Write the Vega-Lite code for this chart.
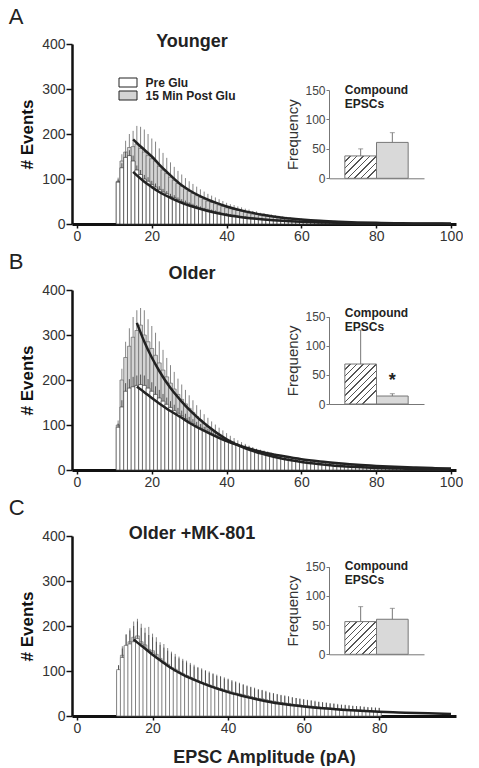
{
"$schema": "https://vega.github.io/schema/vega-lite/v6.json",
"background": "white",
"padding": {"left": 8, "top": 5, "right": 0, "bottom": 0},
"config": {"view": {"stroke": null}, "font": "Liberation Sans", "axis": {"grid": false}},
"spacing": 8,
"resolve": {"scale": {"color": "independent"}, "legend": {"color": "independent"}},
"datasets": {
"ins": [
{"p":"A","c":"Pre Glu","v":38,"e":50},{"p":"A","c":"15 Min Post Glu","v":61,"e":77.5},
{"p":"B","c":"Pre Glu","v":68.7,"e":127},{"p":"B","c":"15 Min Post Glu","v":13.7,"e":17.7},
{"p":"C","c":"Pre Glu","v":56,"e":81.6},{"p":"C","c":"15 Min Post Glu","v":60,"e":78.7}
],
"fit": [
{"p":"A","x":15,"a":116,"b":188},{"p":"A","x":16,"a":108,"b":180},{"p":"A","x":18,"a":94,"b":165},{"p":"A","x":20,"a":82,"b":150},{"p":"A","x":22,"a":71,"b":132},{"p":"A","x":25,"a":58,"b":108},{"p":"A","x":28,"a":47,"b":86},{"p":"A","x":30,"a":41,"b":75},{"p":"A","x":35,"a":29,"b":54},{"p":"A","x":40,"a":20,"b":39},{"p":"A","x":45,"a":14,"b":28},{"p":"A","x":50,"a":10,"b":20},{"p":"A","x":55,"a":7,"b":14},{"p":"A","x":60,"a":5,"b":10},{"p":"A","x":65,"a":3.5,"b":7},{"p":"A","x":70,"a":2.5,"b":5},{"p":"A","x":75,"a":1.8,"b":3.6},{"p":"A","x":80,"a":1.2,"b":2.6},{"p":"A","x":85,"a":0.9,"b":1.9},{"p":"A","x":90,"a":0.6,"b":1.3},{"p":"A","x":95,"a":0.4,"b":1},{"p":"A","x":100,"a":0.3,"b":0.7},
{"p":"B","x":16,"a":185,"b":327},{"p":"B","x":18,"a":173,"b":285},{"p":"B","x":20,"a":160,"b":250},{"p":"B","x":22,"a":148,"b":220},{"p":"B","x":25,"a":131,"b":182},{"p":"B","x":28,"a":116,"b":152},{"p":"B","x":30,"a":105,"b":134},{"p":"B","x":35,"a":83,"b":97},{"p":"B","x":40,"a":64,"b":68},{"p":"B","x":45,"a":50,"b":48},{"p":"B","x":50,"a":39,"b":35},{"p":"B","x":55,"a":31,"b":25},{"p":"B","x":60,"a":24,"b":18},{"p":"B","x":65,"a":19,"b":13},{"p":"B","x":70,"a":15,"b":9},{"p":"B","x":75,"a":11.5,"b":6.5},{"p":"B","x":80,"a":9,"b":4.7},{"p":"B","x":85,"a":7,"b":3.4},{"p":"B","x":90,"a":5.5,"b":2.4},{"p":"B","x":95,"a":4.3,"b":1.7},{"p":"B","x":100,"a":3.4,"b":1.2},
{"p":"C","x":15,"a":170},{"p":"C","x":16,"a":163},{"p":"C","x":18,"a":150},{"p":"C","x":20,"a":136},{"p":"C","x":22,"a":124},{"p":"C","x":25,"a":106},{"p":"C","x":28,"a":92},{"p":"C","x":30,"a":84},{"p":"C","x":35,"a":67},{"p":"C","x":40,"a":53},{"p":"C","x":45,"a":42},{"p":"C","x":50,"a":33},{"p":"C","x":55,"a":26},{"p":"C","x":60,"a":21},{"p":"C","x":65,"a":17},{"p":"C","x":70,"a":14},{"p":"C","x":75,"a":11.5},{"p":"C","x":80,"a":9.5},{"p":"C","x":85,"a":8},{"p":"C","x":90,"a":6.5},{"p":"C","x":95,"a":5.5},{"p":"C","x":99,"a":4.5}
],
"hist": [
{"p":"A","x":11,"a":93,"at":99,"b":95,"bt":103},{"p":"A","x":12,"a":125,"at":135,"b":140,"bt":155},{"p":"A","x":13,"a":148,"at":160,"b":160,"bt":185},{"p":"A","x":14,"a":152,"at":164,"b":170,"bt":200},{"p":"A","x":15,"a":140,"at":152,"b":172,"bt":207},{"p":"A","x":16,"a":120,"at":130,"b":178,"bt":218},{"p":"A","x":17,"a":110,"at":120,"b":168,"bt":216},{"p":"A","x":18,"a":100,"at":109,"b":160,"bt":210},{"p":"A","x":19,"a":95,"at":104,"b":152,"bt":200},{"p":"A","x":20,"a":88,"at":96,"b":145,"bt":190},
{"p":"A","x":21,"a":82,"at":90,"b":140,"bt":183},{"p":"A","x":22,"a":77,"at":84,"b":128,"bt":168},{"p":"A","x":23,"a":71,"at":78,"b":120,"bt":158},{"p":"A","x":24,"a":67,"at":73,"b":112,"bt":147},{"p":"A","x":25,"a":61,"at":67,"b":104,"bt":137},{"p":"A","x":26,"a":58,"at":64,"b":97,"bt":127},{"p":"A","x":27,"a":54,"at":59,"b":90,"bt":118},{"p":"A","x":28,"a":50,"at":55,"b":84,"bt":110},{"p":"A","x":29,"a":47,"at":52,"b":78,"bt":102},{"p":"A","x":30,"a":44,"at":48,"b":73,"bt":95},
{"p":"A","x":31,"a":41,"at":45,"b":68,"bt":89},{"p":"A","x":32,"a":38,"at":42,"b":63,"bt":83},{"p":"A","x":33,"a":35,"at":39,"b":59,"bt":77},{"p":"A","x":34,"a":33,"at":36,"b":55,"bt":72},{"p":"A","x":35,"a":31,"at":34,"b":51,"bt":67},{"p":"A","x":36,"a":29,"at":32,"b":48,"bt":63},{"p":"A","x":37,"a":27,"at":30,"b":45,"bt":59},{"p":"A","x":38,"a":25,"at":28,"b":42,"bt":55},{"p":"A","x":39,"a":23,"at":25,"b":39,"bt":51},{"p":"A","x":40,"a":22,"at":24,"b":36,"bt":47},
{"p":"A","x":41,"a":20,"at":22,"b":34,"bt":44},{"p":"A","x":42,"a":19,"at":21,"b":32,"bt":42},{"p":"A","x":43,"a":17,"at":19,"b":30,"bt":39},{"p":"A","x":44,"a":16,"at":18,"b":28,"bt":37},{"p":"A","x":45,"a":15,"at":17,"b":26,"bt":34},{"p":"A","x":46,"a":14,"at":16,"b":24,"bt":32},{"p":"A","x":47,"a":13,"at":15,"b":22,"bt":29},{"p":"A","x":48,"a":12,"at":13,"b":21,"bt":28},{"p":"A","x":49,"a":11,"at":12,"b":19,"bt":25},{"p":"A","x":50,"a":10,"at":11,"b":18,"bt":24},
{"p":"A","x":51,"a":10,"at":11,"b":17,"bt":22},{"p":"A","x":52,"a":9,"at":10,"b":16,"bt":21},{"p":"A","x":53,"a":8,"at":9,"b":15,"bt":20},{"p":"A","x":54,"a":8,"at":9,"b":14,"bt":18},{"p":"A","x":55,"a":7,"at":8,"b":13,"bt":17},{"p":"A","x":56,"a":7,"at":8,"b":12,"bt":16},{"p":"A","x":57,"a":6,"at":7,"b":11,"bt":15},{"p":"A","x":58,"a":6,"at":7,"b":10,"bt":13},{"p":"A","x":59,"a":5,"at":6,"b":10,"bt":13},{"p":"A","x":60,"a":5,"at":6,"b":9,"bt":12},
{"p":"A","x":61,"a":5,"at":6,"b":8,"bt":11},{"p":"A","x":62,"a":4,"at":5,"b":8,"bt":11},{"p":"A","x":63,"a":4,"at":5,"b":7,"bt":9},{"p":"A","x":64,"a":4,"at":5,"b":7,"bt":9},{"p":"A","x":65,"a":3,"at":4,"b":6,"bt":8},{"p":"A","x":66,"a":3,"at":4,"b":6,"bt":8},{"p":"A","x":67,"a":3,"at":4,"b":5,"bt":7},{"p":"A","x":68,"a":3,"at":4,"b":5,"bt":7},{"p":"A","x":69,"a":2,"at":3,"b":5,"bt":7},{"p":"A","x":70,"a":2,"at":3,"b":4,"bt":5},
{"p":"A","x":71,"a":2,"at":3,"b":4,"bt":5},{"p":"A","x":72,"a":2,"at":3,"b":4,"bt":5},{"p":"A","x":73,"a":2,"at":3,"b":3,"bt":4},{"p":"A","x":74,"a":2,"at":3,"b":3,"bt":4},{"p":"A","x":75,"a":2,"at":3,"b":3,"bt":4},{"p":"A","x":76,"a":1,"at":2,"b":3,"bt":4},{"p":"A","x":77,"a":1,"at":2,"b":3,"bt":4},{"p":"A","x":78,"a":1,"at":2,"b":2,"bt":3},{"p":"A","x":79,"a":1,"at":2,"b":2,"bt":3},{"p":"A","x":80,"a":1,"at":2,"b":2,"bt":3},
{"p":"A","x":81,"a":1,"at":2,"b":2,"bt":3},{"p":"A","x":82,"a":1,"at":2,"b":2,"bt":3},{"p":"A","x":83,"a":1,"at":2,"b":2,"bt":3},{"p":"A","x":84,"a":1,"at":2,"b":2,"bt":3},{"p":"A","x":85,"a":1,"at":2,"b":2,"bt":3},{"p":"A","x":86,"a":1,"at":2,"b":1,"bt":2},{"p":"A","x":87,"a":1,"at":2,"b":1,"bt":2},{"p":"A","x":88,"a":1,"at":2,"b":1,"bt":2},{"p":"A","x":89,"a":1,"at":2,"b":1,"bt":2},{"p":"A","x":90,"a":1,"at":2,"b":1,"bt":2},
{"p":"A","x":91,"a":1,"at":2,"b":1,"bt":2},{"p":"A","x":92,"a":1,"at":2,"b":1,"bt":2},{"p":"A","x":93,"a":1,"at":2,"b":1,"bt":2},{"p":"A","x":94,"a":1,"at":2,"b":1,"bt":2},{"p":"A","x":95,"a":1,"at":2,"b":1,"bt":2},{"p":"A","x":96,"a":1,"at":2,"b":1,"bt":2},{"p":"A","x":97,"a":1,"at":2,"b":1,"bt":2},{"p":"A","x":98,"a":1,"at":2,"b":1,"bt":2},{"p":"A","x":99,"a":1,"at":2,"b":1,"bt":2},
{"p":"B","x":11,"a":95,"at":103,"b":100,"bt":110},{"p":"B","x":12,"a":140,"at":155,"b":200,"bt":225},{"p":"B","x":13,"a":175,"at":193,"b":250,"bt":285},{"p":"B","x":14,"a":182,"at":202,"b":275,"bt":315},{"p":"B","x":15,"a":185,"at":207,"b":295,"bt":340},{"p":"B","x":16,"a":188,"at":210,"b":310,"bt":355},{"p":"B","x":17,"a":190,"at":212,"b":322,"bt":360},{"p":"B","x":18,"a":188,"at":210,"b":300,"bt":355},{"p":"B","x":19,"a":182,"at":202,"b":285,"bt":335},{"p":"B","x":20,"a":175,"at":195,"b":270,"bt":320},
{"p":"B","x":21,"a":168,"at":186,"b":255,"bt":305},{"p":"B","x":22,"a":160,"at":178,"b":238,"bt":286},{"p":"B","x":23,"a":153,"at":169,"b":222,"bt":267},{"p":"B","x":24,"a":146,"at":161,"b":207,"bt":249},{"p":"B","x":25,"a":139,"at":153,"b":193,"bt":233},{"p":"B","x":26,"a":132,"at":145,"b":180,"bt":218},{"p":"B","x":27,"a":126,"at":138,"b":168,"bt":203},{"p":"B","x":28,"a":120,"at":132,"b":157,"bt":190},{"p":"B","x":29,"a":114,"at":125,"b":147,"bt":178},{"p":"B","x":30,"a":108,"at":118,"b":137,"bt":166},
{"p":"B","x":31,"a":103,"at":113,"b":128,"bt":155},{"p":"B","x":32,"a":98,"at":107,"b":119,"bt":144},{"p":"B","x":33,"a":93,"at":102,"b":111,"bt":134},{"p":"B","x":34,"a":88,"at":96,"b":103,"bt":124},{"p":"B","x":35,"a":84,"at":92,"b":96,"bt":116},{"p":"B","x":36,"a":80,"at":88,"b":89,"bt":108},{"p":"B","x":37,"a":76,"at":83,"b":83,"bt":101},{"p":"B","x":38,"a":72,"at":79,"b":77,"bt":94},{"p":"B","x":39,"a":68,"at":75,"b":72,"bt":88},{"p":"B","x":40,"a":65,"at":71,"b":67,"bt":82},
{"p":"B","x":41,"a":61,"at":67,"b":62,"bt":76},{"p":"B","x":42,"a":58,"at":64,"b":58,"bt":71},{"p":"B","x":43,"a":55,"at":60,"b":54,"bt":66},{"p":"B","x":44,"a":52,"at":57,"b":50,"bt":62},{"p":"B","x":45,"a":50,"at":55,"b":47,"bt":58},{"p":"B","x":46,"a":47,"at":52,"b":44,"bt":54},{"p":"B","x":47,"a":45,"at":49,"b":41,"bt":51},{"p":"B","x":48,"a":43,"at":47,"b":38,"bt":47},{"p":"B","x":49,"a":41,"at":45,"b":35,"bt":44},{"p":"B","x":50,"a":39,"at":43,"b":33,"bt":41},
{"p":"B","x":51,"a":37,"at":41,"b":31,"bt":39},{"p":"B","x":52,"a":35,"at":38,"b":29,"bt":36},{"p":"B","x":53,"a":33,"at":36,"b":27,"bt":34},{"p":"B","x":54,"a":31,"at":34,"b":25,"bt":31},{"p":"B","x":55,"a":30,"at":33,"b":23,"bt":29},{"p":"B","x":56,"a":28,"at":31,"b":22,"bt":28},{"p":"B","x":57,"a":27,"at":30,"b":20,"bt":25},{"p":"B","x":58,"a":25,"at":28,"b":19,"bt":24},{"p":"B","x":59,"a":24,"at":26,"b":18,"bt":23},{"p":"B","x":60,"a":23,"at":25,"b":17,"bt":21},
{"p":"B","x":61,"a":22,"at":24,"b":16,"bt":20},{"p":"B","x":62,"a":21,"at":23,"b":15,"bt":19},{"p":"B","x":63,"a":20,"at":22,"b":14,"bt":18},{"p":"B","x":64,"a":19,"at":21,"b":13,"bt":16},{"p":"B","x":65,"a":18,"at":20,"b":12,"bt":15},{"p":"B","x":66,"a":17,"at":19,"b":11,"bt":14},{"p":"B","x":67,"a":16,"at":18,"b":10,"bt":13},{"p":"B","x":68,"a":15,"at":17,"b":10,"bt":13},{"p":"B","x":69,"a":14,"at":16,"b":9,"bt":11},{"p":"B","x":70,"a":13,"at":15,"b":8,"bt":10},
{"p":"B","x":71,"a":13,"at":14,"b":8,"bt":10},{"p":"B","x":72,"a":12,"at":13,"b":7,"bt":9},{"p":"B","x":73,"a":11,"at":12,"b":7,"bt":9},{"p":"B","x":74,"a":11,"at":12,"b":6,"bt":8},{"p":"B","x":75,"a":10,"at":11,"b":6,"bt":8},{"p":"B","x":76,"a":10,"at":11,"b":6,"bt":7},{"p":"B","x":77,"a":9,"at":10,"b":5,"bt":6},{"p":"B","x":78,"a":9,"at":10,"b":5,"bt":6},{"p":"B","x":79,"a":8,"at":9,"b":5,"bt":6},{"p":"B","x":80,"a":8,"at":9,"b":4,"bt":5},
{"p":"B","x":81,"a":7,"at":8,"b":4,"bt":5},{"p":"B","x":82,"a":7,"at":8,"b":4,"bt":5},{"p":"B","x":83,"a":6,"at":7,"b":3,"bt":4},{"p":"B","x":84,"a":6,"at":7,"b":3,"bt":4},{"p":"B","x":85,"a":6,"at":7,"b":3,"bt":4},{"p":"B","x":86,"a":5,"at":6,"b":3,"bt":4},{"p":"B","x":87,"a":5,"at":6,"b":3,"bt":4},{"p":"B","x":88,"a":5,"at":6,"b":2,"bt":3},{"p":"B","x":89,"a":4,"at":5,"b":2,"bt":3},{"p":"B","x":90,"a":4,"at":5,"b":2,"bt":3},
{"p":"B","x":91,"a":4,"at":5,"b":2,"bt":3},{"p":"B","x":92,"a":4,"at":5,"b":2,"bt":3},{"p":"B","x":93,"a":3,"at":4,"b":2,"bt":3},{"p":"B","x":94,"a":3,"at":4,"b":1,"bt":2},{"p":"B","x":95,"a":3,"at":4,"b":1,"bt":2},{"p":"B","x":96,"a":3,"at":4,"b":1,"bt":2},{"p":"B","x":97,"a":3,"at":4,"b":1,"bt":2},{"p":"B","x":98,"a":2,"at":3,"b":1,"bt":2},{"p":"B","x":99,"a":2,"at":3,"b":1,"bt":2},
{"p":"C","x":11,"a":103,"at":113,"b":100,"bt":112},{"p":"C","x":12,"a":130,"at":150,"b":135,"bt":155},{"p":"C","x":13,"a":157,"at":182,"b":155,"bt":180},{"p":"C","x":14,"a":160,"at":190,"b":165,"bt":195},{"p":"C","x":15,"a":165,"at":200,"b":175,"bt":210},{"p":"C","x":16,"a":172,"at":210,"b":178,"bt":216},{"p":"C","x":17,"a":160,"at":196,"b":165,"bt":205},{"p":"C","x":18,"a":150,"at":185,"b":158,"bt":196},{"p":"C","x":19,"a":145,"at":180,"b":148,"bt":198},{"p":"C","x":20,"a":140,"at":175,"b":145,"bt":183},
{"p":"C","x":21,"a":130,"at":165,"b":137,"bt":175},{"p":"C","x":22,"a":124,"at":158,"b":128,"bt":164},{"p":"C","x":23,"a":118,"at":152,"b":120,"bt":160},{"p":"C","x":24,"a":112,"at":145,"b":115,"bt":151},{"p":"C","x":25,"a":106,"at":139,"b":108,"bt":143},{"p":"C","x":26,"a":100,"at":132,"b":104,"bt":138},{"p":"C","x":27,"a":96,"at":128,"b":98,"bt":132},{"p":"C","x":28,"a":92,"at":123,"b":94,"bt":127},{"p":"C","x":29,"a":88,"at":119,"b":90,"bt":123},{"p":"C","x":30,"a":84,"at":114,"b":86,"bt":118},
{"p":"C","x":31,"a":80,"at":110,"b":82,"bt":114},{"p":"C","x":32,"a":77,"at":107,"b":78,"bt":109},{"p":"C","x":33,"a":74,"at":103,"b":75,"bt":106},{"p":"C","x":34,"a":71,"at":100,"b":72,"bt":102},{"p":"C","x":35,"a":68,"at":96,"b":69,"bt":99},{"p":"C","x":36,"a":65,"at":93,"b":66,"bt":95},{"p":"C","x":37,"a":62,"at":89,"b":63,"bt":92},{"p":"C","x":38,"a":60,"at":87,"b":61,"bt":89},{"p":"C","x":39,"a":57,"at":83,"b":58,"bt":86},{"p":"C","x":40,"a":55,"at":81,"b":56,"bt":83},
{"p":"C","x":41,"a":52,"at":77,"b":53,"bt":80},{"p":"C","x":42,"a":50,"at":75,"b":51,"bt":77},{"p":"C","x":43,"a":48,"at":72,"b":49,"bt":74},{"p":"C","x":44,"a":46,"at":69,"b":47,"bt":71},{"p":"C","x":45,"a":44,"at":66,"b":45,"bt":68},{"p":"C","x":46,"a":42,"at":64,"b":43,"bt":65},{"p":"C","x":47,"a":40,"at":61,"b":41,"bt":63},{"p":"C","x":48,"a":38,"at":58,"b":39,"bt":60},{"p":"C","x":49,"a":37,"at":57,"b":38,"bt":58},{"p":"C","x":50,"a":35,"at":54,"b":36,"bt":56},
{"p":"C","x":51,"a":33,"at":51,"b":34,"bt":53},{"p":"C","x":52,"a":32,"at":50,"b":33,"bt":51},{"p":"C","x":53,"a":31,"at":48,"b":31,"bt":49},{"p":"C","x":54,"a":29,"at":46,"b":30,"bt":47},{"p":"C","x":55,"a":28,"at":44,"b":29,"bt":46},{"p":"C","x":56,"a":27,"at":43,"b":28,"bt":44},{"p":"C","x":57,"a":26,"at":41,"b":26,"bt":42},{"p":"C","x":58,"a":25,"at":40,"b":25,"bt":40},{"p":"C","x":59,"a":24,"at":38,"b":24,"bt":39},{"p":"C","x":60,"a":23,"at":37,"b":23,"bt":37},
{"p":"C","x":61,"a":22,"at":35,"b":22,"bt":36},{"p":"C","x":62,"a":21,"at":34,"b":22,"bt":35},{"p":"C","x":63,"a":20,"at":32,"b":21,"bt":34},{"p":"C","x":64,"a":19,"at":31,"b":20,"bt":32},{"p":"C","x":65,"a":18,"at":30,"b":19,"bt":31},{"p":"C","x":66,"a":18,"at":29,"b":18,"bt":30},{"p":"C","x":67,"a":17,"at":28,"b":17,"bt":28},{"p":"C","x":68,"a":16,"at":27,"b":17,"bt":28},{"p":"C","x":69,"a":15,"at":25,"b":16,"bt":27},{"p":"C","x":70,"a":15,"at":25,"b":15,"bt":25},
{"p":"C","x":71,"a":14,"at":24,"b":15,"bt":25},{"p":"C","x":72,"a":14,"at":23,"b":14,"bt":24},{"p":"C","x":73,"a":13,"at":22,"b":14,"bt":23},{"p":"C","x":74,"a":13,"at":22,"b":13,"bt":22},{"p":"C","x":75,"a":12,"at":21,"b":13,"bt":22},{"p":"C","x":76,"a":12,"at":20,"b":12,"bt":21},{"p":"C","x":77,"a":11,"at":19,"b":12,"bt":20},{"p":"C","x":78,"a":11,"at":19,"b":11,"bt":19},{"p":"C","x":79,"a":10,"at":18,"b":11,"bt":19},{"p":"C","x":80,"a":10,"at":18,"b":10,"bt":18}
]
},
"vconcat": [
{
"title": {"text": "A", "anchor": "start", "fontSize": 22, "fontWeight": "normal", "color": "#222", "dx": -10, "offset": -13, "baseline": "alphabetic"},
"resolve": {"scale": {"color": "independent"}, "legend": {"color": "independent"}},
"vconcat": [{
"width": 384, "height": 180,
"title": {"text": "Younger", "frame": "group", "anchor": "middle", "dx": -72, "offset": -27.7, "fontSize": 18, "fontWeight": "bold", "color": "#222", "baseline": "alphabetic"},
"resolve": {"scale": {"x": "independent", "y": "independent"}, "axis": {"x": "independent", "y": "independent"}},
"layer": [
{"layer": [
{"data": {"name": "hist"}, "transform": [{"filter": "datum.p==='A'"}],
 "mark": {"type": "bar", "orient": "vertical", "width": 3.84, "stroke": "#555", "strokeWidth": 0.6},
 "encoding": {
  "x": {"field": "x", "type": "quantitative", "title": null, "scale": {"domain": [0, 100], "nice": false}, "axis": {"values": [0,20,40,60,80,100], "tickSize": 4, "tickWidth": 1.5, "tickColor": "#111", "domainColor": "#111", "domainWidth": 3, "labelFontSize": 14, "labelColor": "#333", "labelPadding": 1, "labelFlush": false}},
  "y": {"field": "b", "type": "quantitative", "title": "# Events", "scale": {"domain": [0, 400], "nice": false}, "axis": {"values": [0,100,200,300,400], "tickSize": 6, "tickWidth": 1.5, "tickColor": "#111", "domainColor": "#111", "domainWidth": 2.5, "labelFontSize": 14, "labelColor": "#333", "labelPadding": 1, "titleFontSize": 17, "titleFontWeight": "bold", "titleColor": "#111", "titlePadding": 5}},
  "color": {"datum": "15 Min Post Glu", "type": "nominal", "scale": {"domain": ["Pre Glu", "15 Min Post Glu"], "range": ["#ffffff", "#d4d4d4"]},
   "legend": {"orient": "none", "legendX": 50, "legendY": 32.5, "title": null, "symbolType": "M-2,-1L2,-1L2,1L-2,1Z", "symbolSize": 81, "symbolStrokeColor": "#333", "symbolStrokeWidth": 1, "symbolOpacity": 1, "labelFontSize": 12, "labelFontWeight": "bold", "labelColor": "#222", "labelOffset": 11.5, "rowPadding": -2, "padding": 0}}
 }},
{"data": {"name": "hist"}, "transform": [{"filter": "datum.p==='A'"}],
 "mark": {"type": "rule", "color": "#666", "strokeWidth": 0.8},
 "encoding": {"x": {"field": "x", "type": "quantitative", "title": null}, "y": {"field": "b", "type": "quantitative", "title": "# Events"}, "y2": {"field": "bt"}}},
{"data": {"name": "hist"}, "transform": [{"filter": "datum.p==='A'"}],
 "mark": {"type": "bar", "orient": "vertical", "width": 3.84, "stroke": "#222", "strokeWidth": 0.6},
 "encoding": {"x": {"field": "x", "type": "quantitative", "title": null}, "y": {"field": "a", "type": "quantitative", "title": "# Events"}, "color": {"datum": "Pre Glu", "type": "nominal"}}},
{"data": {"name": "hist"}, "transform": [{"filter": "datum.p==='A'"}],
 "mark": {"type": "rule", "color": "#333", "strokeWidth": 0.8},
 "encoding": {"x": {"field": "x", "type": "quantitative", "title": null}, "y": {"field": "a", "type": "quantitative", "title": "# Events"}, "y2": {"field": "at"}}},
{"data": {"name": "fit"}, "transform": [{"filter": "datum.p==='A'"}],
 "mark": {"type": "line", "color": "#222", "strokeWidth": 2.5, "interpolate": "monotone"},
 "encoding": {"x": {"field": "x", "type": "quantitative", "title": null}, "y": {"field": "a", "type": "quantitative", "title": "# Events"}}},
{"data": {"name": "fit"}, "transform": [{"filter": "datum.p==='A'"}],
 "mark": {"type": "line", "color": "#222", "strokeWidth": 2.5, "interpolate": "monotone"},
 "encoding": {"x": {"field": "x", "type": "quantitative", "title": null}, "y": {"field": "b", "type": "quantitative", "title": "# Events"}}}
]},
{"layer": [
{"data": {"name": "ins"}, "transform": [{"filter": "datum.p==='A' && datum.c==='Pre Glu'"}],
 "mark": {"type": "bar", "stroke": "#777", "strokeWidth": 1, "fill": {"gradient": "linear", "x1": 0, "y1": 0, "x2": 1, "y2": 0.707, "stops": [{"offset":0,"color":"#fff"},{"offset":0.107,"color":"#fff"},{"offset":0.107,"color":"#555"},{"offset":0.137,"color":"#555"},{"offset":0.137,"color":"#fff"},{"offset":0.244,"color":"#fff"},{"offset":0.244,"color":"#555"},{"offset":0.274,"color":"#555"},{"offset":0.274,"color":"#fff"},{"offset":0.381,"color":"#fff"},{"offset":0.381,"color":"#555"},{"offset":0.411,"color":"#555"},{"offset":0.411,"color":"#fff"},{"offset":0.518,"color":"#fff"},{"offset":0.518,"color":"#555"},{"offset":0.548,"color":"#555"},{"offset":0.548,"color":"#fff"},{"offset":0.655,"color":"#fff"},{"offset":0.655,"color":"#555"},{"offset":0.685,"color":"#555"},{"offset":0.685,"color":"#fff"},{"offset":0.792,"color":"#fff"},{"offset":0.792,"color":"#555"},{"offset":0.822,"color":"#555"},{"offset":0.822,"color":"#fff"},{"offset":0.929,"color":"#fff"},{"offset":0.929,"color":"#555"},{"offset":0.959,"color":"#555"},{"offset":0.959,"color":"#fff"},{"offset":1,"color":"#fff"}]}},
 "encoding": {
  "x": {"field": "c", "type": "nominal", "sort": null, "scale": {"domain": ["Pre Glu", "15 Min Post Glu"], "range": [257, 352], "paddingInner": 0, "paddingOuter": 0.5}, "axis": {"orient": "bottom", "offset": -45.7, "labels": false, "ticks": false, "title": null, "domainColor": "#777", "domainWidth": 1}},
  "y": {"field": "v", "type": "quantitative", "title": "Frequency", "scale": {"domain": [0, 150], "range": [134.3, 46], "nice": false}, "axis": {"orient": "left", "offset": -257, "values": [0,50,100,150], "tickSize": 3, "tickColor": "#777", "domainColor": "#777", "domainWidth": 1, "labelFontSize": 12, "labelColor": "#444", "labelPadding": 1, "titleFontSize": 15, "titleFontWeight": "normal", "titleColor": "#333", "titlePadding": 4}}
 }},
{"data": {"name": "ins"}, "transform": [{"filter": "datum.p==='A' && datum.c!=='Pre Glu'"}],
 "mark": {"type": "bar", "fill": "#d9d9d9", "stroke": "#777", "strokeWidth": 1},
 "encoding": {"x": {"field": "c", "type": "nominal", "sort": null, "title": null}, "y": {"field": "v", "type": "quantitative", "title": "Frequency"}}},
{"data": {"name": "ins"}, "transform": [{"filter": "datum.p==='A'"}],
 "mark": {"type": "rule", "color": "#777", "strokeWidth": 1},
 "encoding": {"x": {"field": "c", "type": "nominal", "sort": null, "title": null}, "y": {"field": "v", "type": "quantitative", "title": "Frequency"}, "y2": {"field": "e"}}},
{"data": {"name": "ins"}, "transform": [{"filter": "datum.p==='A'"}],
 "mark": {"type": "tick", "orient": "horizontal", "color": "#777", "size": 5, "thickness": 1},
 "encoding": {"x": {"field": "c", "type": "nominal", "sort": null, "title": null}, "y": {"field": "e", "type": "quantitative", "title": "Frequency"}}},
{"data": {"name": "ins"}, "transform": [{"filter": "datum.p==='A' && datum.c==='Pre Glu'"}],
 "mark": {"type": "text", "text": ["Compound", "EPSCs"], "align": "left", "baseline": "middle", "fontSize": 12, "fontWeight": "bold", "color": "#222", "lineHeight": 14},
 "encoding": {"x": {"field": "c", "type": "nominal", "sort": null, "title": null, "bandPosition": 0}, "y": {"datum": 150, "type": "quantitative"}}}
]}
]
}]
},
{
"title": {"text": "B", "anchor": "start", "fontSize": 22, "fontWeight": "normal", "color": "#222", "dx": -10, "offset": -26, "baseline": "alphabetic"},
"vconcat": [{
"width": 384, "height": 180,
"title": {"text": "Older", "frame": "group", "anchor": "middle", "dx": -72, "offset": -14, "fontSize": 18, "fontWeight": "bold", "color": "#222", "baseline": "alphabetic"},
"resolve": {"scale": {"x": "independent", "y": "independent"}, "axis": {"x": "independent", "y": "independent"}},
"layer": [
{"layer": [
{"data": {"name": "hist"}, "transform": [{"filter": "datum.p==='B'"}],
 "mark": {"type": "bar", "orient": "vertical", "width": 3.84, "fill": "#d4d4d4", "stroke": "#555", "strokeWidth": 0.6},
 "encoding": {
  "x": {"field": "x", "type": "quantitative", "title": null, "scale": {"domain": [0, 100], "nice": false}, "axis": {"values": [0,20,40,60,80,100], "tickSize": 4, "tickWidth": 1.5, "tickColor": "#111", "domainColor": "#111", "domainWidth": 3, "labelFontSize": 14, "labelColor": "#333", "labelPadding": 1, "labelFlush": false}},
  "y": {"field": "b", "type": "quantitative", "title": "# Events", "scale": {"domain": [0, 400], "nice": false}, "axis": {"values": [0,100,200,300,400], "tickSize": 6, "tickWidth": 1.5, "tickColor": "#111", "domainColor": "#111", "domainWidth": 2.5, "labelFontSize": 14, "labelColor": "#333", "labelPadding": 1, "titleFontSize": 17, "titleFontWeight": "bold", "titleColor": "#111", "titlePadding": 5}}
 }},
{"data": {"name": "hist"}, "transform": [{"filter": "datum.p==='B'"}],
 "mark": {"type": "rule", "color": "#666", "strokeWidth": 0.8},
 "encoding": {"x": {"field": "x", "type": "quantitative", "title": null}, "y": {"field": "b", "type": "quantitative", "title": "# Events"}, "y2": {"field": "bt"}}},
{"data": {"name": "hist"}, "transform": [{"filter": "datum.p==='B'"}],
 "mark": {"type": "bar", "orient": "vertical", "width": 3.84, "fill": "#ffffff", "stroke": "#333", "strokeWidth": 0.6},
 "encoding": {"x": {"field": "x", "type": "quantitative", "title": null}, "y": {"field": "a", "type": "quantitative", "title": "# Events"}}},
{"data": {"name": "hist"}, "transform": [{"filter": "datum.p==='B'"}],
 "mark": {"type": "rule", "color": "#333", "strokeWidth": 0.8},
 "encoding": {"x": {"field": "x", "type": "quantitative", "title": null}, "y": {"field": "a", "type": "quantitative", "title": "# Events"}, "y2": {"field": "at"}}},
{"data": {"name": "fit"}, "transform": [{"filter": "datum.p==='B'"}],
 "mark": {"type": "line", "color": "#222", "strokeWidth": 2.5, "interpolate": "monotone"},
 "encoding": {"x": {"field": "x", "type": "quantitative", "title": null}, "y": {"field": "a", "type": "quantitative", "title": "# Events"}}},
{"data": {"name": "fit"}, "transform": [{"filter": "datum.p==='B'"}],
 "mark": {"type": "line", "color": "#222", "strokeWidth": 2.5, "interpolate": "monotone"},
 "encoding": {"x": {"field": "x", "type": "quantitative", "title": null}, "y": {"field": "b", "type": "quantitative", "title": "# Events"}}}
]},
{"layer": [
{"data": {"name": "ins"}, "transform": [{"filter": "datum.p==='B' && datum.c==='Pre Glu'"}],
 "mark": {"type": "bar", "stroke": "#777", "strokeWidth": 1, "fill": {"gradient": "linear", "x1": 0, "y1": 0, "x2": 0.79, "y2": 1, "stops": [{"offset":0,"color":"#fff"},{"offset":0.078,"color":"#fff"},{"offset":0.078,"color":"#555"},{"offset":0.1,"color":"#555"},{"offset":0.1,"color":"#fff"},{"offset":0.178,"color":"#fff"},{"offset":0.178,"color":"#555"},{"offset":0.2,"color":"#555"},{"offset":0.2,"color":"#fff"},{"offset":0.278,"color":"#fff"},{"offset":0.278,"color":"#555"},{"offset":0.3,"color":"#555"},{"offset":0.3,"color":"#fff"},{"offset":0.378,"color":"#fff"},{"offset":0.378,"color":"#555"},{"offset":0.4,"color":"#555"},{"offset":0.4,"color":"#fff"},{"offset":0.478,"color":"#fff"},{"offset":0.478,"color":"#555"},{"offset":0.5,"color":"#555"},{"offset":0.5,"color":"#fff"},{"offset":0.578,"color":"#fff"},{"offset":0.578,"color":"#555"},{"offset":0.6,"color":"#555"},{"offset":0.6,"color":"#fff"},{"offset":0.678,"color":"#fff"},{"offset":0.678,"color":"#555"},{"offset":0.7,"color":"#555"},{"offset":0.7,"color":"#fff"},{"offset":0.778,"color":"#fff"},{"offset":0.778,"color":"#555"},{"offset":0.8,"color":"#555"},{"offset":0.8,"color":"#fff"},{"offset":0.878,"color":"#fff"},{"offset":0.878,"color":"#555"},{"offset":0.9,"color":"#555"},{"offset":0.9,"color":"#fff"},{"offset":1,"color":"#fff"}]}},
 "encoding": {
  "x": {"field": "c", "type": "nominal", "sort": null, "scale": {"domain": ["Pre Glu", "15 Min Post Glu"], "range": [257, 352], "paddingInner": 0, "paddingOuter": 0.5}, "axis": {"orient": "bottom", "offset": -66, "labels": false, "ticks": false, "title": null, "domainColor": "#777", "domainWidth": 1}},
  "y": {"field": "v", "type": "quantitative", "title": "Frequency", "scale": {"domain": [0, 150], "range": [114, 26.7], "nice": false}, "axis": {"orient": "left", "offset": -257, "values": [0,50,100,150], "tickSize": 3, "tickColor": "#777", "domainColor": "#777", "domainWidth": 1, "labelFontSize": 12, "labelColor": "#444", "labelPadding": 1, "titleFontSize": 15, "titleFontWeight": "normal", "titleColor": "#333", "titlePadding": 4}}
 }},
{"data": {"name": "ins"}, "transform": [{"filter": "datum.p==='B' && datum.c!=='Pre Glu'"}],
 "mark": {"type": "bar", "fill": "#d9d9d9", "stroke": "#777", "strokeWidth": 1},
 "encoding": {"x": {"field": "c", "type": "nominal", "sort": null, "title": null}, "y": {"field": "v", "type": "quantitative", "title": "Frequency"}}},
{"data": {"name": "ins"}, "transform": [{"filter": "datum.p==='B'"}],
 "mark": {"type": "rule", "color": "#777", "strokeWidth": 1},
 "encoding": {"x": {"field": "c", "type": "nominal", "sort": null, "title": null}, "y": {"field": "v", "type": "quantitative", "title": "Frequency"}, "y2": {"field": "e"}}},
{"data": {"name": "ins"}, "transform": [{"filter": "datum.p==='B'"}],
 "mark": {"type": "tick", "orient": "horizontal", "color": "#777", "size": 5, "thickness": 1},
 "encoding": {"x": {"field": "c", "type": "nominal", "sort": null, "title": null}, "y": {"field": "e", "type": "quantitative", "title": "Frequency"}}},
{"data": {"name": "ins"}, "transform": [{"filter": "datum.p==='B' && datum.c==='Pre Glu'"}],
 "mark": {"type": "text", "text": ["Compound", "EPSCs"], "align": "left", "baseline": "middle", "fontSize": 12, "fontWeight": "bold", "color": "#222", "lineHeight": 14},
 "encoding": {"x": {"field": "c", "type": "nominal", "sort": null, "title": null, "bandPosition": 0}, "y": {"datum": 156, "type": "quantitative"}}},
{"data": {"name": "ins"}, "transform": [{"filter": "datum.p==='B' && datum.c!=='Pre Glu'"}],
 "mark": {"type": "text", "text": "*", "align": "center", "baseline": "middle", "fontSize": 18, "fontWeight": "bold", "color": "#222"},
 "encoding": {"x": {"field": "c", "type": "nominal", "sort": null, "title": null}, "y": {"datum": 40, "type": "quantitative"}}}
]}
]
}]
},
{
"title": {"text": "C", "anchor": "start", "fontSize": 22, "fontWeight": "normal", "color": "#222", "dx": -10, "offset": -12, "baseline": "alphabetic"},
"vconcat": [{
"width": 384, "height": 180,
"title": {"text": "Older +MK-801", "frame": "group", "anchor": "middle", "dx": -72, "offset": -28, "fontSize": 18, "fontWeight": "bold", "color": "#222", "baseline": "alphabetic"},
"resolve": {"scale": {"x": "independent", "y": "independent"}, "axis": {"x": "independent", "y": "independent"}},
"layer": [
{"layer": [
{"data": {"name": "hist"}, "transform": [{"filter": "datum.p==='C'"}],
 "mark": {"type": "bar", "orient": "vertical", "width": 3.88, "fill": "#d4d4d4", "stroke": "#666", "strokeWidth": 0.6},
 "encoding": {
  "x": {"field": "x", "type": "quantitative", "title": "EPSC Amplitude (pA)", "scale": {"domain": [0, 99], "nice": false}, "axis": {"values": [0,20,40,60,80], "tickSize": 4, "tickWidth": 1.5, "tickColor": "#111", "domainColor": "#111", "domainWidth": 3, "labelFontSize": 14, "labelColor": "#333", "labelPadding": 1, "labelFlush": false, "titleFontSize": 18, "titleFontWeight": "bold", "titleColor": "#222", "titlePadding": 13}},
  "y": {"field": "b", "type": "quantitative", "title": "# Events", "scale": {"domain": [0, 400], "nice": false}, "axis": {"values": [0,100,200,300,400], "tickSize": 6, "tickWidth": 1.5, "tickColor": "#111", "domainColor": "#111", "domainWidth": 2.5, "labelFontSize": 14, "labelColor": "#333", "labelPadding": 1, "titleFontSize": 17, "titleFontWeight": "bold", "titleColor": "#111", "titlePadding": 5}}
 }},
{"data": {"name": "hist"}, "transform": [{"filter": "datum.p==='C'"}],
 "mark": {"type": "rule", "color": "#666", "strokeWidth": 0.8},
 "encoding": {"x": {"field": "x", "type": "quantitative", "title": "EPSC Amplitude (pA)"}, "y": {"field": "b", "type": "quantitative", "title": "# Events"}, "y2": {"field": "bt"}}},
{"data": {"name": "hist"}, "transform": [{"filter": "datum.p==='C'"}],
 "mark": {"type": "bar", "orient": "vertical", "width": 3.88, "fill": "#ffffff", "stroke": "#555", "strokeWidth": 0.6},
 "encoding": {"x": {"field": "x", "type": "quantitative", "title": "EPSC Amplitude (pA)"}, "y": {"field": "a", "type": "quantitative", "title": "# Events"}}},
{"data": {"name": "hist"}, "transform": [{"filter": "datum.p==='C'"}],
 "mark": {"type": "rule", "color": "#444", "strokeWidth": 0.8},
 "encoding": {"x": {"field": "x", "type": "quantitative", "title": "EPSC Amplitude (pA)"}, "y": {"field": "a", "type": "quantitative", "title": "# Events"}, "y2": {"field": "at"}}},
{"data": {"name": "fit"}, "transform": [{"filter": "datum.p==='C'"}],
 "mark": {"type": "line", "color": "#222", "strokeWidth": 2.5, "interpolate": "monotone"},
 "encoding": {"x": {"field": "x", "type": "quantitative", "title": "EPSC Amplitude (pA)"}, "y": {"field": "a", "type": "quantitative", "title": "# Events"}}}
]},
{"layer": [
{"data": {"name": "ins"}, "transform": [{"filter": "datum.p==='C' && datum.c==='Pre Glu'"}],
 "mark": {"type": "bar", "stroke": "#777", "strokeWidth": 1, "fill": {"gradient": "linear", "x1": 0, "y1": 0, "x2": 0.97, "y2": 1, "stops": [{"offset":0,"color":"#fff"},{"offset":0.078,"color":"#fff"},{"offset":0.078,"color":"#555"},{"offset":0.1,"color":"#555"},{"offset":0.1,"color":"#fff"},{"offset":0.178,"color":"#fff"},{"offset":0.178,"color":"#555"},{"offset":0.2,"color":"#555"},{"offset":0.2,"color":"#fff"},{"offset":0.278,"color":"#fff"},{"offset":0.278,"color":"#555"},{"offset":0.3,"color":"#555"},{"offset":0.3,"color":"#fff"},{"offset":0.378,"color":"#fff"},{"offset":0.378,"color":"#555"},{"offset":0.4,"color":"#555"},{"offset":0.4,"color":"#fff"},{"offset":0.478,"color":"#fff"},{"offset":0.478,"color":"#555"},{"offset":0.5,"color":"#555"},{"offset":0.5,"color":"#fff"},{"offset":0.578,"color":"#fff"},{"offset":0.578,"color":"#555"},{"offset":0.6,"color":"#555"},{"offset":0.6,"color":"#fff"},{"offset":0.678,"color":"#fff"},{"offset":0.678,"color":"#555"},{"offset":0.7,"color":"#555"},{"offset":0.7,"color":"#fff"},{"offset":0.778,"color":"#fff"},{"offset":0.778,"color":"#555"},{"offset":0.8,"color":"#555"},{"offset":0.8,"color":"#fff"},{"offset":0.878,"color":"#fff"},{"offset":0.878,"color":"#555"},{"offset":0.9,"color":"#555"},{"offset":0.9,"color":"#fff"},{"offset":1,"color":"#fff"}]}},
 "encoding": {
  "x": {"field": "c", "type": "nominal", "sort": null, "scale": {"domain": ["Pre Glu", "15 Min Post Glu"], "range": [257, 352], "paddingInner": 0, "paddingOuter": 0.5}, "axis": {"orient": "bottom", "offset": -61.7, "labels": false, "ticks": false, "title": null, "domainColor": "#777", "domainWidth": 1}},
  "y": {"field": "v", "type": "quantitative", "title": "Frequency", "scale": {"domain": [0, 150], "range": [118.3, 30.7], "nice": false}, "axis": {"orient": "left", "offset": -257, "values": [0,50,100,150], "tickSize": 3, "tickColor": "#777", "domainColor": "#777", "domainWidth": 1, "labelFontSize": 12, "labelColor": "#444", "labelPadding": 1, "titleFontSize": 15, "titleFontWeight": "normal", "titleColor": "#333", "titlePadding": 4}}
 }},
{"data": {"name": "ins"}, "transform": [{"filter": "datum.p==='C' && datum.c!=='Pre Glu'"}],
 "mark": {"type": "bar", "fill": "#d9d9d9", "stroke": "#777", "strokeWidth": 1},
 "encoding": {"x": {"field": "c", "type": "nominal", "sort": null, "title": null}, "y": {"field": "v", "type": "quantitative", "title": "Frequency"}}},
{"data": {"name": "ins"}, "transform": [{"filter": "datum.p==='C'"}],
 "mark": {"type": "rule", "color": "#777", "strokeWidth": 1},
 "encoding": {"x": {"field": "c", "type": "nominal", "sort": null, "title": null}, "y": {"field": "v", "type": "quantitative", "title": "Frequency"}, "y2": {"field": "e"}}},
{"data": {"name": "ins"}, "transform": [{"filter": "datum.p==='C'"}],
 "mark": {"type": "tick", "orient": "horizontal", "color": "#777", "size": 5, "thickness": 1},
 "encoding": {"x": {"field": "c", "type": "nominal", "sort": null, "title": null}, "y": {"field": "e", "type": "quantitative", "title": "Frequency"}}},
{"data": {"name": "ins"}, "transform": [{"filter": "datum.p==='C' && datum.c==='Pre Glu'"}],
 "mark": {"type": "text", "text": ["Compound", "EPSCs"], "align": "left", "baseline": "middle", "fontSize": 12, "fontWeight": "bold", "color": "#222", "lineHeight": 14},
 "encoding": {"x": {"field": "c", "type": "nominal", "sort": null, "title": null, "bandPosition": 0}, "y": {"datum": 151, "type": "quantitative"}}}
]}
]
}]
}
]
}
